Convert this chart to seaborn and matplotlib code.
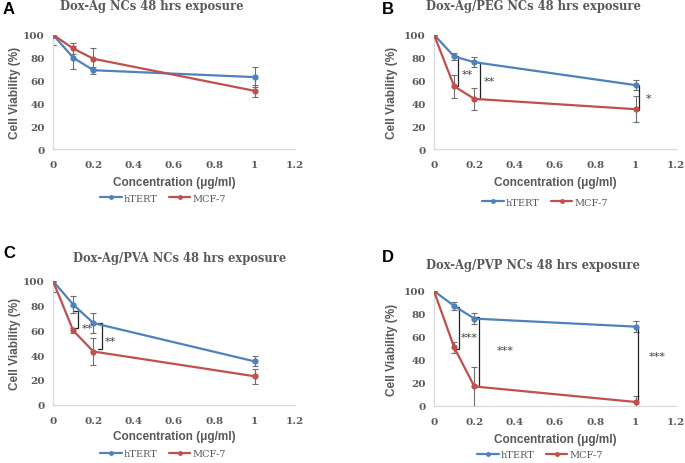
import numpy as np
import pandas as pd
import matplotlib
matplotlib.use("Agg")
import matplotlib.pyplot as plt
import seaborn as sns
from matplotlib.lines import Line2D

sns.set_theme(style="white")
plt.rcParams['font.family'] = ['DejaVu Sans']

# ---- data ----
conc = [0, 0.1, 0.2, 1]
cells = ["hTERT", "MCF-7"]
panel_letters = ["A", "B", "C", "D"]
titles = ["Dox-Ag NCs 48 hrs exposure", "Dox-Ag/PEG NCs 48 hrs exposure",
          "Dox-Ag/PVA NCs 48 hrs exposure", "Dox-Ag/PVP NCs 48 hrs exposure"]

htert_A = [100, 80, 69, 63]
htert_A_err = [9, 10, 3, 9]
mcf_A = [100, 88, 79, 51]
mcf_A_err = [9, 5, 9, 5]

htert_B = [100, 81, 76, 56]
htert_B_err = [3, 3, 4.5, 4.5]
mcf_B = [100, 55, 44, 35]
mcf_B_err = [3, 10, 9.5, 11.5]

htert_C = [100, 81, 66, 35]
htert_C_err = [9, 7, 8, 4]
mcf_C = [100, 60, 43, 23]
mcf_C_err = [9, 2, 11, 6]

htert_D = [100, 87, 76, 69]
htert_D_err = [1, 3.5, 4.5, 5]
mcf_D = [100, 51, 17, 3.5]
mcf_D_err = [1, 4.5, 17, 5]

# significance brackets: (x, y_top, y_bottom, label, label_x, label_y)
brackets_A = []
brackets_B = [(0.12, 81, 55, "**", 0.168, 66), (0.228, 76, 44, "**", 0.277, 60),
              (1.018, 56, 34, "*", 1.063, 45)]
brackets_C = [(0.124, 76, 62, "**", 0.17, 62), (0.241, 66, 45, "**", 0.287, 51.5)]
brackets_D = [(0.122, 86.5, 50, "***", 0.177, 60), (0.223, 77, 17, "***", 0.353, 49),
              (1.01, 68, 4, "***", 1.108, 44)]

xticks = [0, 0.2, 0.4, 0.6, 0.8, 1, 1.2]
xticklabels = ["0", "0.2", "0.4", "0.6", "0.8", "1", "1.2"]
yticks = [0, 20, 40, 60, 80, 100]

panels = [
    (htert_A, htert_A_err, mcf_A, mcf_A_err, brackets_A),
    (htert_B, htert_B_err, mcf_B, mcf_B_err, brackets_B),
    (htert_C, htert_C_err, mcf_C, mcf_C_err, brackets_C),
    (htert_D, htert_D_err, mcf_D, mcf_D_err, brackets_D),
]

# ---- layout (pixels) ----
W, H = 685, 464
# left, top(y=100), bottom(y=0) in px
boxes = [(53, 35.7, 150.3), (434, 35.7, 150.3), (53, 282, 405.7), (434, 292, 407)]
title_px = [(152, 15), (533, 15), (180, 267), (533, 274)]
letter_px = [(9, 10), (388, 9), (9, 254), (388, 257)]
xlabel_py = [183, 183, 437, 440]
legend_px = [(163, 199), (545, 203), (163, 455), (540, 456)]
axw = 242

blue = "#4F81BD"
red = "#C0504D"
gray_txt = "#595959"
err_col = "#6f6f6f"
palette = {"hTERT": blue, "MCF-7": red}

fig = plt.figure(figsize=(W / 100, H / 100), dpi=100)
fig.patch.set_facecolor("white")

for i, (ht, hte, mc, mce, brs) in enumerate(panels):
    l, t, b = boxes[i]
    hgt = b - t
    ax = fig.add_axes([l / W, (H - b) / H, axw / W, hgt / H])
    ax.set_facecolor("white")

    df = pd.DataFrame({
        "Concentration": conc * 2,
        "Viability": list(ht) + list(mc),
        "Cell": [cells[0]] * len(conc) + [cells[1]] * len(conc),
    })
    # error bars first (beneath lines)
    ax.errorbar(conc, ht, yerr=hte, fmt="none", ecolor=err_col, elinewidth=0.8,
                capsize=2.5, capthick=0.8, zorder=1)
    ax.errorbar(conc, mc, yerr=mce, fmt="none", ecolor=err_col, elinewidth=0.8,
                capsize=2.5, capthick=0.8, zorder=1)
    sns.lineplot(data=df, x="Concentration", y="Viability", hue="Cell",
                 hue_order=cells, palette=palette, marker="o", markersize=4.5,
                 markeredgewidth=0, linewidth=1.6, legend=False, ax=ax, zorder=3)

    for (bx, yt, yb, lab, lx, ly) in brs:
        tk = 0.018
        ax.plot([bx - tk, bx, bx, bx - tk], [yt, yt, yb, yb], color="#222222",
                lw=0.9, zorder=2, solid_joinstyle="miter")
        ax.text(lx, ly, lab, ha="center", va="center", fontsize=8,
                color="#444444", family="DejaVu Serif")

    ax.set_xlim(0, 1.2)
    ax.set_ylim(0, 100)
    ax.set_xticks(xticks)
    ax.set_xticklabels(xticklabels)
    ax.set_yticks(yticks)
    for lbl in ax.get_xticklabels() + ax.get_yticklabels():
        lbl.set_family("DejaVu Serif")
        lbl.set_fontweight("bold")
        lbl.set_fontsize(7.5)
        lbl.set_color(gray_txt)
    ax.tick_params(axis="both", length=0)
    ax.tick_params(axis="x", pad=8)
    ax.tick_params(axis="y", pad=6)
    for s in ["top", "right"]:
        ax.spines[s].set_visible(False)
    for s in ["left", "bottom"]:
        ax.spines[s].set_color("#D9D9D9")
        ax.spines[s].set_linewidth(0.9)
    ax.grid(False)

    ax.set_xlabel("Concentration (μg/ml)", fontsize=8.5, fontweight="bold",
                  color=gray_txt, family="Liberation Sans")
    ax.set_ylabel("Cell Viability (%)", fontsize=8.5, fontweight="bold",
                  color=gray_txt, family="Liberation Sans")
    ax.xaxis.label.set_va("center")
    ax.yaxis.label.set_va("center")
    ax.xaxis.set_label_coords(0.5, -(xlabel_py[i] - b) / hgt)
    lx_ax = (15 if i in (0, 2) else 392) - l
    ax.yaxis.set_label_coords(lx_ax / axw, 0.5)

    tx, ty = title_px[i]
    ax.set_title(titles[i], x=(tx - l) / axw, y=1 + (t - ty) / hgt, ha="center",
                 va="center", fontsize=8.3, fontweight="bold", color=gray_txt,
                 family="DejaVu Serif")

    px, py = letter_px[i]
    fig.text(px / W, 1 - py / H, panel_letters[i], ha="center", va="center",
             fontsize=12, fontweight="bold", color="black", family="Liberation Sans")

    handles = [Line2D([], [], color=palette[c], marker="o", markersize=3.5,
                      markeredgewidth=0, lw=1.6) for c in cells]
    gx, gy = legend_px[i]
    leg = fig.legend(handles, cells, loc="center", bbox_to_anchor=(gx / W, 1 - gy / H),
                     ncol=2, frameon=False, fontsize=7, handlelength=2.2,
                     handletextpad=0.2, columnspacing=1.2,
                     prop={"family": "DejaVu Serif", "size": 7})
    for txt in leg.get_texts():
        txt.set_color(gray_txt)

fig.savefig("out.png", dpi=100, facecolor="white")
